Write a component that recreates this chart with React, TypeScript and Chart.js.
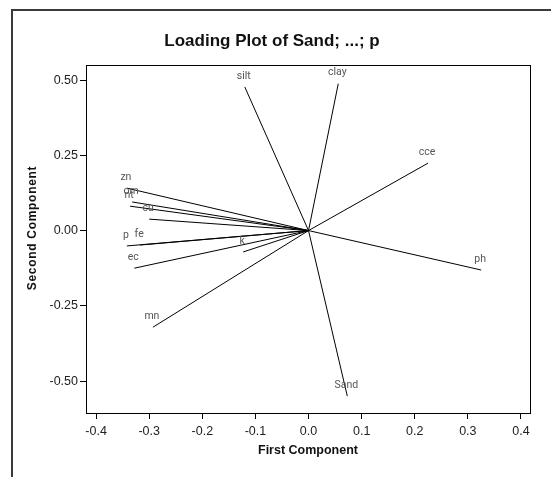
import React, { useEffect, useRef } from 'react';
import { Chart, registerables } from 'chart.js';

Chart.register(...registerables);

const VARIABLES = ['silt', 'clay', 'cce', 'ph', 'Sand', 'mn', 'ec', 'p', 'fe', 'k', 'zn', 'om', 'nt', 'cu'];
const FIRST_COMPONENT = [-0.120, 0.056, 0.225, 0.325, 0.073, -0.293, -0.328, -0.342, -0.317, -0.123, -0.342, -0.332, -0.336, -0.300];
const SECOND_COMPONENT = [0.477, 0.488, 0.224, -0.131, -0.550, -0.321, -0.125, -0.051, -0.048, -0.071, 0.141, 0.095, 0.081, 0.038];
const X_TICKS = [-0.4, -0.3, -0.2, -0.1, 0.0, 0.1, 0.2, 0.3, 0.4];
const Y_TICKS = [-0.5, -0.25, 0.0, 0.25, 0.5];
const TITLE = 'Loading Plot of Sand; ...; p';
const X_TITLE = 'First Component';
const Y_TITLE = 'Second Component';

const SANS = '"Liberation Sans", Arial, sans-serif';
const LABEL_FONT = 'Roboto, "Liberation Sans", sans-serif';

const decorPlugin = {
  id: 'decor',
  beforeDraw(chart: any) {
    const { ctx, width, height } = chart;
    ctx.save();
    ctx.fillStyle = '#ffffff';
    ctx.fillRect(0, 0, width, height);
    ctx.strokeStyle = '#3a3a3a';
    ctx.lineWidth = 2;
    ctx.beginPath();
    ctx.moveTo(12, height);
    ctx.lineTo(12, 10);
    ctx.lineTo(width, 10);
    ctx.stroke();
    ctx.restore();
  },
  afterDatasetsDraw(chart: any) {
    const { ctx, chartArea } = chart;
    const xs = chart.scales.x;
    const ys = chart.scales.y;
    ctx.save();
    ctx.strokeStyle = '#000';
    ctx.lineWidth = 1;
    ctx.strokeRect(
      Math.round(chartArea.left) + 0.5,
      Math.round(chartArea.top) + 0.5,
      Math.round(chartArea.right - chartArea.left),
      Math.round(chartArea.bottom - chartArea.top)
    );
    // vector labels
    ctx.fillStyle = '#555';
    ctx.font = `10.5px ${LABEL_FONT}`;
    ctx.textAlign = 'center';
    ctx.textBaseline = 'middle';
    VARIABLES.forEach((name, i) => {
      const px = xs.getPixelForValue(FIRST_COMPONENT[i]);
      const py = ys.getPixelForValue(SECOND_COMPONENT[i]);
      ctx.fillText(name, px - 1, py - 11);
    });
    // title
    ctx.fillStyle = '#111';
    ctx.font = `bold 17px ${SANS}`;
    ctx.textAlign = 'center';
    ctx.textBaseline = 'middle';
    ctx.fillText(TITLE, 272, 41);
    // y title
    ctx.translate(33, 228);
    ctx.rotate(-Math.PI / 2);
    ctx.font = `bold 12px ${SANS}`;
    (ctx as any).letterSpacing = '0.7px';
    ctx.fillText(Y_TITLE, 0, 0);
    ctx.restore();
  },
};

export default function App() {
  const ref = useRef<HTMLCanvasElement>(null);
  useEffect(() => {
    if (!ref.current) return;
    const datasets = VARIABLES.map((name, i) => ({
      label: name,
      data: [
        { x: 0, y: 0 },
        { x: FIRST_COMPONENT[i], y: SECOND_COMPONENT[i] },
      ],
      showLine: true,
      borderColor: '#000',
      borderWidth: 1,
      pointRadius: 0,
      fill: false,
    }));
    const chart = new Chart(ref.current, {
      type: 'scatter',
      data: { datasets },
      options: {
        animation: false,
        responsive: false,
        events: [],
        layout: { padding: { left: 0, top: 65, right: 21, bottom: 0 } },
        plugins: {
          legend: { display: false },
          tooltip: { enabled: false },
          title: { display: false },
        },
        scales: {
          x: {
            type: 'linear',
            min: -0.419,
            max: 0.417,
            afterBuildTicks: (scale: any) => {
              scale.ticks = X_TICKS.map((v) => ({ value: v }));
            },
            afterFit: (scale: any) => {
              scale.height = 64;
            },
            border: { display: false },
            grid: { drawOnChartArea: false, drawTicks: true, tickLength: 6, color: '#000' },
            ticks: {
              color: '#222',
              font: { family: SANS, size: 12.5 },
              padding: 5,
              maxRotation: 0,
              callback: (v: any) => Number(v).toFixed(1),
            },
            title: {
              display: true,
              text: X_TITLE,
              color: '#111',
              font: { family: SANS, size: 12.5, weight: 'bold' },
              padding: { top: 0, bottom: 19 },
            },
          },
          y: {
            type: 'linear',
            min: -0.606,
            max: 0.55,
            afterBuildTicks: (scale: any) => {
              scale.ticks = Y_TICKS.map((v) => ({ value: v }));
            },
            afterFit: (scale: any) => {
              scale.width = 86;
            },
            border: { display: false },
            grid: { drawOnChartArea: false, drawTicks: true, tickLength: 6, color: '#000' },
            ticks: {
              color: '#222',
              font: { family: SANS, size: 12.5 },
              padding: 2,
              callback: (v: any) => Number(v).toFixed(2),
            },
          },
        },
      },
      plugins: [decorPlugin],
    });
    return () => chart.destroy();
  }, []);
  return (
    <div style={{ position: 'absolute', left: 0, top: 0, width: 551, height: 477 }}>
      <canvas ref={ref} width={551} height={477} style={{ display: 'block' }} />
    </div>
  );
}
